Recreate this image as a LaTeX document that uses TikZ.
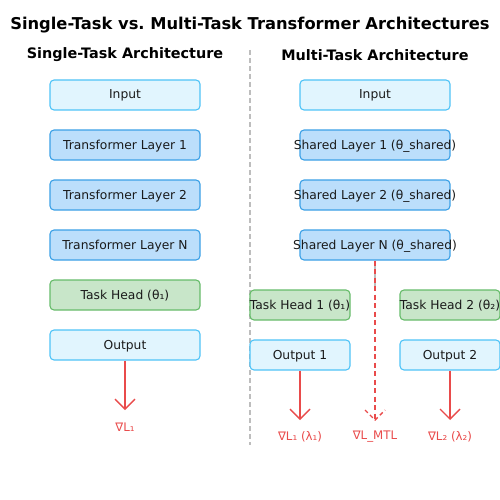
\documentclass[tikz,border=0pt]{standalone}
\usepackage{fontspec}
\setmainfont{DejaVu Sans}
\usetikzlibrary{arrows.meta,calc}
\definecolor{inFill}{HTML}{E1F5FE}
\definecolor{inDraw}{HTML}{4FC3F7}
\definecolor{lyFill}{HTML}{BBDEFB}
\definecolor{lyDraw}{HTML}{3AA0E6}
\definecolor{hdFill}{HTML}{C8E6C9}
\definecolor{hdDraw}{HTML}{66BB6A}
\definecolor{gradRed}{HTML}{E94B4B}
\definecolor{divGray}{HTML}{BDBDBD}
\definecolor{txt}{HTML}{1A1A1A}
\newcommand{\ovf}[1]{\makebox[0pt]{#1}}
\tikzset{
  box/.style={rounded corners=4pt, line width=1.1pt, minimum height=30pt, inner sep=0pt, text=txt, font=\fontsize{12.3}{14}\selectfont, text height=9pt, text depth=1pt},
  wide/.style={box, minimum width=150pt},
  narrow/.style={box, minimum width=100pt},
  inbox/.style={fill=inFill, draw=inDraw},
  lybox/.style={fill=lyFill, draw=lyDraw},
  hdbox/.style={fill=hdFill, draw=hdDraw},
  grad/.style={draw=gradRed, line width=1.4pt, -{Straight Barb[length=10pt,width=20pt,line width=1.4pt]}},
  gradlbl/.style={text=gradRed, font=\fontsize{11.8}{14}\selectfont},
  ttl/.style={font=\bfseries\fontsize{16.3}{19}\selectfont, text=black},
  sub/.style={font=\bfseries\fontsize{14.4}{17}\selectfont, text=black},
}
\begin{document}
\frenchspacing
\begin{tikzpicture}[x=1pt,y=-1pt]
\useasboundingbox (0,0) rectangle (500,500);
\node[ttl] (title) at (250,25) {Single-Task vs. Multi-Task Transformer Architectures};
\node[sub] (subL) at (125,55) {Single-Task Architecture};
\node[sub] (subR) at (375,55) {Multi-Task Architecture};
\coordinate (divTop) at (250,50);
\coordinate (divBot) at (250,445);
\draw[divGray, line width=1.2pt, dash pattern=on 5pt off 3pt] (divTop) -- (divBot);
% left
\node[wide,inbox] (lIn) at (125,95) {Input};
\node[wide,lybox] (l1) at (125,145) {Transformer Layer 1};
\node[wide,lybox] (l2) at (125,195) {Transformer Layer 2};
\node[wide,lybox] (lN) at (125,245) {Transformer Layer N};
\node[wide,hdbox] (lH) at (125,295) {Task Head (θ₁)};
\node[wide,inbox] (lOut) at (125,345) {Output};
\coordinate (lTip) at (125,410);
\draw[grad] (lOut.south) -- (lTip);
\node[gradlbl] (lG) at (125,427) {∇L₁};
% right
\node[wide,inbox] (rIn) at (375,95) {Input};
\node[wide,lybox] (r1) at (375,145) {\ovf{Shared Layer 1 (θ\_shared)}};
\node[wide,lybox] (r2) at (375,195) {\ovf{Shared Layer 2 (θ\_shared)}};
\node[wide,lybox] (rN) at (375,245) {\ovf{Shared Layer N (θ\_shared)}};
\node[narrow,hdbox] (h1) at (300,305) {\ovf{Task Head 1 (θ₁)}};
\node[narrow,hdbox] (h2) at (450,305) {\ovf{Task Head 2 (θ₂)}};
\node[narrow,inbox] (o1) at (300,355) {Output 1};
\node[narrow,inbox] (o2) at (450,355) {Output 2};
\coordinate (branch) at (375,290);
\draw[divGray, line width=1.4pt] (rN.south) -- (branch);
\coordinate (mTip) at (375,420);
\draw[gradRed, line width=1.4pt, dash pattern=on 5pt off 3.5pt] (rN.south) -- (mTip);
\draw[gradRed, line width=1.4pt, dash pattern=on 4pt off 3pt] ($(mTip)+(-10,-10)$) -- (mTip) -- ($(mTip)+(10,-10)$);
\coordinate (t1) at (300,420);
\coordinate (t2) at (450,420);
\draw[grad] (o1.south) -- (t1);
\draw[grad] (o2.south) -- (t2);
\node[gradlbl] (g1) at (300,437) {∇L₁ (λ₁)};
\node[gradlbl] (gM) at (375,437) {∇L\_MTL};
\node[gradlbl] (g2) at (450,437) {∇L₂ (λ₂)};
\end{tikzpicture}
\end{document}
